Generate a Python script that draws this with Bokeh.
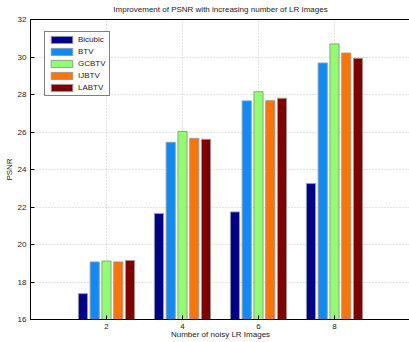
from bokeh.plotting import figure
from bokeh.models import (ColumnDataSource, FixedTicker, Legend, LegendItem,
                          Range1d)
from bokeh.transform import dodge
from bokeh.embed import file_html
from bokeh.resources import INLINE

# ---- data ----
num_images = [2, 4, 6, 8]
series_names = ["Bicubic", "BTV", "GCBTV", "IJBTV", "LABTV"]
bicubic = [17.38, 21.65, 21.74, 23.25]
btv = [19.07, 25.45, 27.66, 29.68]
gcbtv = [19.12, 26.03, 28.15, 30.70]
ijbtv = [19.07, 25.66, 27.67, 30.21]
labtv = [19.15, 25.61, 27.80, 29.93]
y_ticks = [16, 18, 20, 22, 24, 26, 28, 30, 32]

colors = ["#00008F", "#0A8CFF", "#8FFF6F", "#FF7400", "#800000"]
FONT = "Liberation Sans"

source = ColumnDataSource(dict(x=num_images, Bicubic=bicubic, BTV=btv,
                               GCBTV=gcbtv, IJBTV=ijbtv, LABTV=labtv))

p = figure(frame_width=380, frame_height=300, output_backend="svg",
           toolbar_location=None,
           x_range=Range1d(0, 10), y_range=Range1d(16, 32),
           min_border_left=30, min_border_right=0, min_border_top=19,
           min_border_bottom=20)

p.title.text = "Improvement of PSNR with increasing number of LR Images"
p.title.align = "center"
p.title.vertical_align = "top"
p.title.text_font = FONT
p.title.text_font_size = "8px"
p.title.text_font_style = "normal"
p.title.text_color = "#222222"
p.title.standoff = 7

step = 0.31
renderers = []
for i, name in enumerate(series_names):
    r = p.vbar(x=dodge("x", (i - 2) * step, range=p.x_range), top=name,
               bottom=16, width=0.24, source=source, fill_color=colors[i],
               line_color="#9a9a9a", line_width=1)
    renderers.append(r)

legend = Legend(items=[LegendItem(label=n, renderers=[r])
                       for n, r in zip(series_names, renderers)],
                location=(14, 223))
legend.margin = 0
legend.padding = 3
legend.spacing = 3
legend.glyph_width = 27
legend.glyph_height = 9
legend.label_height = 9
legend.label_standoff = 3
legend.label_text_font = FONT
legend.label_text_font_size = "8px"
legend.label_text_color = "#222222"
legend.border_line_color = "black"
legend.border_line_width = 1
legend.background_fill_color = "white"
legend.background_fill_alpha = 1
p.add_layout(legend)

p.xaxis.ticker = FixedTicker(ticks=num_images)
p.yaxis.ticker = FixedTicker(ticks=y_ticks)
for ax in (p.xaxis, p.yaxis):
    ax.major_tick_in = 4
    ax.major_tick_out = 0
    ax.minor_tick_line_color = None
    ax.axis_line_color = "black"
    ax.major_tick_line_color = "black"
    ax.major_label_text_font = FONT
    ax.major_label_text_font_size = "8px"
    ax.major_label_text_color = "#222222"
    ax.axis_label_text_font = FONT
    ax.axis_label_text_font_size = "8px"
    ax.axis_label_text_font_style = "normal"
    ax.axis_label_text_color = "#222222"
p.xaxis.major_label_standoff = 4
p.yaxis.major_label_standoff = 4
p.xaxis.axis_label = "Number of noisy LR Images"
p.xaxis.axis_label_standoff = -2
p.yaxis.axis_label = "PSNR"
p.yaxis.axis_label_standoff = 1

for g in (p.xgrid, p.ygrid):
    g.grid_line_color = "#c4c4c4"
    g.grid_line_dash = "1 2"
    g.grid_line_width = 1

p.outline_line_color = "black"
p.outline_line_alpha = 1
p.background_fill_color = "white"
p.border_fill_color = "white"

open("out.html", "w").write(file_html(p, INLINE))
